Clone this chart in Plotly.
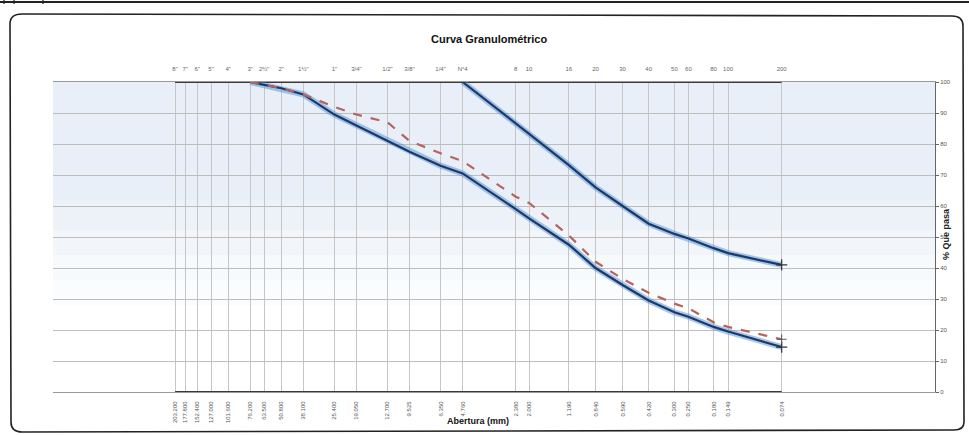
import plotly.graph_objects as go

# ---------------- data ----------------
sieve_mm = [203.2, 177.8, 152.4, 127.0, 101.6, 76.2, 63.5, 50.8, 38.1, 25.4, 19.05, 12.7,
            9.525, 6.35, 4.76, 2.38, 2.0, 1.19, 0.84, 0.59, 0.42, 0.3, 0.25, 0.18, 0.149, 0.074]
sieve_names = ['8"', '7"', '6"', '5"', '4"', '3"', '2½"', '2"', '1½"', '1"', '3/4"', '1/2"',
               '3/8"', '1/4"', 'N°4', '8', '10', '16', '20', '30', '40', '50', '60', '80', '100', '200']
sieve_labels = ["203.200", "177.800", "152.400", "127.000", "101.600", "76.200", "63.500",
                "50.800", "38.100", "25.400", "19.050", "12.700", "9.525", "6.350", "4.760",
                "2.380", "2.000", "1.190", "0.840", "0.590", "0.420", "0.300", "0.250",
                "0.180", "0.149", "0.074"]
pct_ticks = [0, 10, 20, 30, 40, 50, 60, 70, 80, 90, 100]

lower_mm = [76.2, 63.5, 50.8, 38.1, 25.4, 19.05, 12.7, 9.525, 6.35, 4.76, 2.38, 2.0, 1.19,
            0.84, 0.59, 0.42, 0.3, 0.25, 0.18, 0.149, 0.074]
lower_pct = [100, 99, 98, 96, 89.5, 86, 81, 77.5, 73, 70.5, 59, 56, 47.5, 40, 34.5, 29.5,
             25.7, 24.3, 21, 19.5, 14.5]

upper_mm = [4.76, 2.38, 2.0, 1.19, 0.84, 0.59, 0.42, 0.3, 0.25, 0.18, 0.149, 0.074]
upper_pct = [100, 86.8, 83.3, 73.2, 66, 60, 54.3, 51, 49.5, 46.4, 44.8, 41]

red_mm = [76.2, 63.5, 50.8, 38.1, 25.4, 19.05, 12.7, 9.525, 6.35, 4.76, 2.38, 2.0, 1.19,
          0.84, 0.59, 0.42, 0.3, 0.25, 0.18, 0.149, 0.074]
red_pct = [100, 99, 98, 96, 92, 89.5, 87, 81, 77, 74.5, 63, 61, 50.5, 42, 36.5, 32, 28.5,
           27, 22.5, 21, 17]

frame_mm = [203.2, 0.074]
frame_top = [100, 100]
frame_bottom = [0, 0]

# ---------------- layout geometry (pixels) ----------------
W, H = 969, 435
L, R, T, B = 53, 935, 82, 392


def px(x):
    return (x - L) / (R - L)


def py(y):
    return (B - y) / (B - T)


NAVY = "#1c3768"
HALO = "rgba(80,145,215,0.5)"
RED = "#b4645c"
FONT = "Liberation Sans, Arial, sans-serif"

fig = go.Figure()

# frame lines at 100% and 0%
for yv in (frame_top, frame_bottom):
    fig.add_trace(go.Scatter(x=frame_mm, y=yv, mode="lines",
                             line=dict(color="#3a3a3a", width=2), hoverinfo="skip"))

# blue series with halo
for xs, ys in ((lower_mm, lower_pct), (upper_mm, upper_pct)):
    fig.add_trace(go.Scatter(x=xs, y=ys, mode="lines",
                             line=dict(color=HALO, width=6), hoverinfo="skip"))
    fig.add_trace(go.Scatter(x=xs, y=ys, mode="lines",
                             line=dict(color=NAVY, width=2.2)))
    fig.add_trace(go.Scatter(x=xs[-1:], y=ys[-1:], mode="markers",
                             marker=dict(symbol="cross-thin", size=8,
                                         line=dict(color="#333", width=1.2))))

# red dashed series
fig.add_trace(go.Scatter(x=red_mm, y=red_pct, mode="lines",
                         line=dict(color=RED, width=2.2, dash="dash")))
fig.add_trace(go.Scatter(x=red_mm[-1:], y=red_pct[-1:], mode="markers",
                         marker=dict(symbol="cross-thin", size=7,
                                     line=dict(color="#555", width=1))))

# invisible trace for top axis
fig.add_trace(go.Scatter(x=frame_mm, y=frame_top, xaxis="x2", mode="lines",
                         line=dict(color="rgba(0,0,0,0)"), hoverinfo="skip"))

# ---------------- shapes ----------------
shapes = []
# blue tint in upper plot area (fake gradient)
bands = [(82, 200, 0.42), (200, 230, 0.33), (230, 255, 0.24), (255, 280, 0.14), (280, 305, 0.07)]
for y0, y1, a in bands:
    shapes.append(dict(type="rect", xref="paper", yref="paper", x0=0, x1=1,
                       y0=py(y1), y1=py(y0), layer="below", line=dict(width=0),
                       fillcolor=f"rgba(200,217,238,{a})"))

# rounded page frame
path = (f"M {px(10)},{py(24)} Q {px(10)},{py(14)} {px(22)},{py(14)} "
        f"L {px(952)},{py(16)} Q {px(963)},{py(16)} {px(963)},{py(26)} "
        f"L {px(964)},{py(422)} Q {px(964)},{py(430)} {px(954)},{py(430)} "
        f"L {px(22)},{py(432)} Q {px(11)},{py(432)} {px(11)},{py(422)} Z")
shapes.append(dict(type="path", xref="paper", yref="paper", path=path,
                   line=dict(color="#222", width=1.6), layer="below"))
# header table remnant
shapes.append(dict(type="line", xref="paper", yref="paper", x0=px(0), x1=px(969),
                   y0=py(2), y1=py(2), line=dict(color="#222", width=2)))
for xv in (4, 14, 43):
    shapes.append(dict(type="line", xref="paper", yref="paper", x0=px(xv), x1=px(xv),
                       y0=py(0), y1=py(4), line=dict(color="#222", width=1.2)))

# ---------------- annotations ----------------
annotations = [
    dict(text="<b>Curva Granulométrico</b>", x=px(489), y=py(31), xref="paper", yref="paper",
         showarrow=False, font=dict(size=11, color="#111", family=FONT)),
    dict(text="<b>Abertura (mm)</b>", x=px(478), y=py(428), xref="paper", yref="paper",
         showarrow=False, font=dict(size=9, color="#111", family=FONT)),
    dict(text="<b>% Que pasa</b>", x=px(953), y=py(234), xref="paper", yref="paper",
         showarrow=False, textangle=-90, font=dict(size=9, color="#222", family=FONT)),
]

fig.update_layout(
    width=W, height=H,
    margin=dict(l=L, r=W - R, t=T, b=H - B),
    paper_bgcolor="white", plot_bgcolor="white",
    showlegend=False,
    font=dict(family=FONT, color="#444"),
    shapes=shapes, annotations=annotations,
    xaxis=dict(type="log", range=[3, -2], tickmode="array", tickvals=sieve_mm,
               ticktext=sieve_labels, tickangle=-90, tickfont=dict(size=6, color="#555"),
               showgrid=True, gridcolor="#c6c6c6", gridwidth=0.8,
               showline=True, linecolor="#9a9a9a", linewidth=1, mirror=True,
               ticks="", zeroline=False, ticklabelstandoff=6),
    xaxis2=dict(type="log", range=[3, -2], overlaying="x", side="top", tickmode="array",
                tickvals=sieve_mm, ticktext=sieve_names, tickfont=dict(size=6, color="#666"),
                showgrid=False, ticks="", ticklabelstandoff=9, showline=False),
    yaxis=dict(range=[0, 100], side="right", tickmode="array", tickvals=pct_ticks,
               tickfont=dict(size=6, color="#555"), showgrid=True, gridcolor="#bdbdbd",
               gridwidth=0.8, showline=True, linecolor="#666", linewidth=1,
               ticks="outside", ticklen=3, tickcolor="#666", zeroline=False),
)

fig.write_html("out.html")
